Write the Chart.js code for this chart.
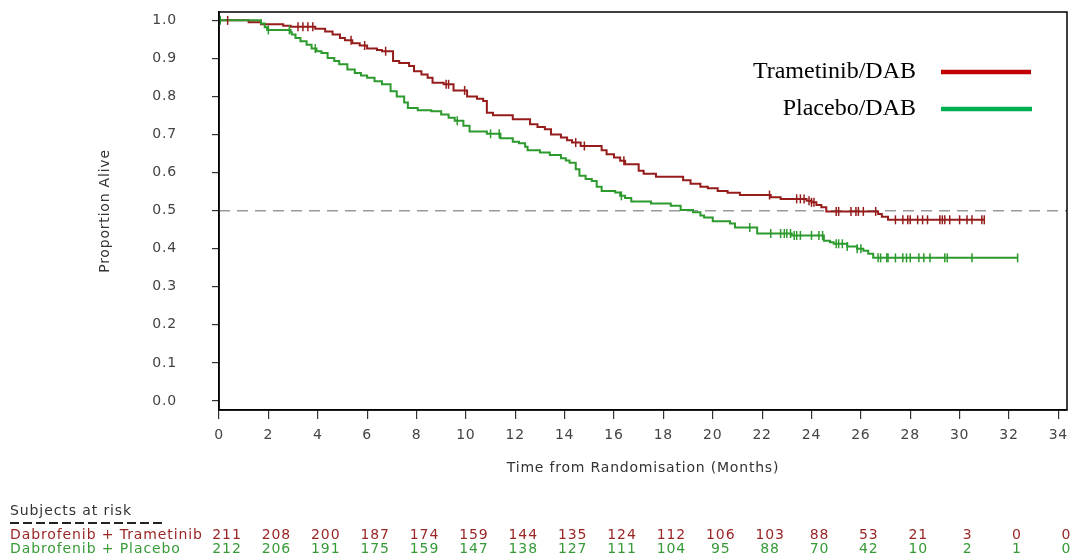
<!DOCTYPE html>
<html>
<head>
<meta charset="utf-8">
<script src="https://cdn.jsdelivr.net/npm/chart.js@4.4.0/dist/chart.umd.min.js"></script>
<style>
  html, body { margin: 0; padding: 0; background: #fff; }
</style>
</head>
<body>
<canvas id="myChart" width="1073" height="557"></canvas>
<script>
// -- axis ticks --
const xTicks = [0, 2, 4, 6, 8, 10, 12, 14, 16, 18, 20, 22, 24, 26, 28, 30, 32, 34];
const yTicks = [0, 0.1, 0.2, 0.3, 0.4, 0.5, 0.6, 0.7, 0.8, 0.9, 1.0];

// -- names --
const seriesNames = ['Trametinib/DAB', 'Placebo/DAB'];
const riskNames = ['Dabrofenib + Trametinib', 'Dabrofenib + Placebo'];

// -- Kaplan-Meier steps : Trametinib/DAB (time in months, proportion alive) --
const trametinibTimes = [0, 1.2, 1.7, 2.6, 2.9, 3.9, 4.3, 4.6, 4.9, 5.1, 5.4, 5.7, 6.0, 6.4, 6.6,
    7.05, 7.3, 7.7, 7.9, 8.2, 8.45, 8.65, 9.1, 9.5, 10.05, 10.45, 10.7, 10.85, 11.1,
    11.9, 12.6, 12.9, 13.2, 13.45, 13.85, 14.1, 14.3, 14.65, 15.5, 15.7, 16.0, 16.25, 16.45,
    17.0, 17.2, 17.7, 18.8, 19.1, 19.5, 19.8, 20.2, 20.6, 21.1, 22.35, 22.75,
    23.8, 24.0, 24.2, 24.4, 24.6, 26.7, 26.85, 27.1, 31.0];
const trametinibSurv = [1.0, 0.995, 0.99, 0.986, 0.983, 0.978, 0.971, 0.963, 0.954, 0.948, 0.94, 0.934, 0.926, 0.922, 0.919,
    0.893, 0.888, 0.88, 0.866, 0.858, 0.849, 0.836, 0.832, 0.816, 0.80, 0.794, 0.788, 0.757, 0.751,
    0.74, 0.727, 0.72, 0.714, 0.70, 0.692, 0.685, 0.679, 0.67, 0.659, 0.648, 0.64, 0.631, 0.622,
    0.605, 0.597, 0.589, 0.58, 0.571, 0.563, 0.559, 0.552, 0.547, 0.541, 0.535, 0.531,
    0.526, 0.522, 0.515, 0.509, 0.498, 0.491, 0.484, 0.476, 0.476];

// -- Kaplan-Meier steps : Placebo/DAB --
const placeboTimes = [0, 1.7, 1.85, 1.95, 2.9, 2.95, 3.1, 3.3, 3.55, 3.75, 3.95, 4.15, 4.4, 4.67, 4.87,
    5.2, 5.5, 5.75, 6.0, 6.3, 6.6, 6.95, 7.2, 7.5, 7.65, 8.05, 8.6, 9.0, 9.3, 9.55, 9.9,
    10.15, 10.85, 11.4, 11.9, 12.15, 12.4, 12.5, 13.0, 13.4, 13.85, 14.05, 14.2, 14.45, 14.6,
    14.85, 15.1, 15.3, 15.5, 16.05, 16.25, 16.45, 16.7, 17.5, 18.3, 18.7, 19.2, 19.5, 19.65,
    20.0, 20.7, 20.9, 21.8, 23.2, 24.5, 24.75, 24.9, 25.45, 25.85, 26.1, 26.3, 26.5, 32.35];
const placeboSurv = [1.0, 0.992, 0.982, 0.975, 0.969, 0.963, 0.954, 0.945, 0.936, 0.926, 0.919, 0.914, 0.901, 0.893, 0.885,
    0.871, 0.862, 0.855, 0.849, 0.84, 0.832, 0.814, 0.80, 0.784, 0.77, 0.764, 0.761, 0.753, 0.744, 0.736, 0.723,
    0.708, 0.702, 0.69, 0.681, 0.677, 0.668, 0.659, 0.653, 0.646, 0.638, 0.632, 0.626, 0.609, 0.592,
    0.583, 0.578, 0.563, 0.552, 0.548, 0.539, 0.533, 0.524, 0.519, 0.513, 0.502, 0.496, 0.487, 0.482,
    0.472, 0.466, 0.456, 0.44, 0.435, 0.421, 0.417, 0.413, 0.406, 0.40, 0.395, 0.387, 0.376, 0.376];

// -- censored subjects (months) --
const trametinibCensor = [0.35, 3.2, 3.4, 3.6, 3.8, 5.35, 5.9, 6.75, 9.2, 9.3, 9.95, 14.45, 14.8, 16.4,
    22.3, 23.4, 23.55, 23.7, 23.9, 24.0, 24.1, 25.0, 25.1, 25.6, 25.8, 25.9, 26.1, 26.6,
    27.4, 27.7, 27.9, 28.0, 28.3, 28.5, 28.7, 29.2, 29.3, 29.4, 29.6, 30.0, 30.3, 30.5, 30.9, 31.0];
const placeboCensor = [0.05, 2.0, 2.85, 3.9, 9.65, 11.0, 11.35, 16.3, 21.5, 22.35, 22.75, 22.9, 23.0,
    23.15, 23.3, 23.4, 23.55, 24.0, 24.3, 24.45, 25.0, 25.1, 25.25, 25.45, 25.85, 26.0,
    26.7, 26.8, 27.05, 27.1, 27.4, 27.7, 27.85, 28.0, 28.35, 28.55, 28.8, 29.4, 29.5, 30.5, 32.35];

// -- subjects at risk --
const riskTimes = [0, 2, 4, 6, 8, 10, 12, 14, 16, 18, 20, 22, 24, 26, 28, 30, 32, 34];
const riskTrametinib = [211, 208, 200, 187, 174, 159, 144, 135, 124, 112, 106, 103, 88, 53, 21, 3, 0, 0];
const riskPlacebo = [212, 206, 191, 175, 159, 147, 138, 127, 111, 104, 95, 88, 70, 42, 10, 2, 1, 0];

const medianLine = 0.5;

const redCurve = '#961c1c';
const greenCurve = '#2c9a2c';
const redLegend = '#c00000';
const greenLegend = '#00b050';
const sans = '"DejaVu Sans", sans-serif';

const X_MIN = 0, X_MAX = 34.35;

// --> points of a step curve <--
function toPoints(times, surv)
{
    return times.map((t, i) => ({ x: t, y: surv[i] }));
}

// --> value of the curve at time t <--
function survAt(times, surv, t)
{
    let s = surv[0];
    for (let i = 0; i < times.length; i++)
        if (times[i] <= t) s = surv[i];
    return s;
}

function censorPoints(cens, times, surv)
{
    return cens.map(t => ({ x: t, y: survAt(times, surv, t) }));
}

// -- the sas-like font is wide: spread all letters a little --
const spacing = {
    id: 'spacing',
    beforeDraw(chart) { chart.ctx.letterSpacing = '0.8px'; },
    afterDraw(chart) { chart.ctx.letterSpacing = '0px'; }
};

// -- box, legend and risk table --
const extras = {
    id: 'extras',
    afterDraw(chart) {
        const ctx = chart.ctx;
        const a = chart.chartArea;
        const xs = chart.scales.x;

        ctx.save();
        ctx.strokeStyle = '#000';
        ctx.lineWidth = 1.5;
        ctx.strokeRect(a.left, a.top, a.right - a.left, a.bottom - a.top);

        // subjects at risk
        ctx.letterSpacing = '0.9px';
        ctx.font = '14px ' + sans;
        ctx.textAlign = 'left';
        ctx.textBaseline = 'middle';
        ctx.fillStyle = '#333';
        ctx.fillText('Subjects at risk', 10, 511);
        ctx.strokeStyle = '#222';
        ctx.lineWidth = 2;
        ctx.setLineDash([9, 4]);
        ctx.beginPath(); ctx.moveTo(10, 523); ctx.lineTo(166, 523); ctx.stroke();
        ctx.setLineDash([]);

        ctx.fillStyle = '#9a2626';
        ctx.fillText(riskNames[0], 10, 535);
        ctx.fillStyle = '#379a37';
        ctx.fillText(riskNames[1], 10, 549);

        ctx.textAlign = 'center';
        riskTimes.forEach((t, i) => {
            const px = xs.getPixelForValue(t) + 8;
            ctx.fillStyle = '#9a2626';
            ctx.fillText(String(riskTrametinib[i]), px, 535);
            ctx.fillStyle = '#379a37';
            ctx.fillText(String(riskPlacebo[i]), px, 549);
        });

        // legend
        ctx.letterSpacing = '0px';
        ctx.font = '24px "Liberation Serif", serif';
        ctx.textAlign = 'right';
        ctx.fillStyle = '#000';
        ctx.fillText(seriesNames[0], 916, 72);
        ctx.fillText(seriesNames[1], 916, 109);
        ctx.lineWidth = 4.5;
        ctx.strokeStyle = redLegend;
        ctx.beginPath(); ctx.moveTo(941, 72); ctx.lineTo(1031, 72); ctx.stroke();
        ctx.strokeStyle = greenLegend;
        ctx.beginPath(); ctx.moveTo(941, 109); ctx.lineTo(1032, 109); ctx.stroke();
        ctx.restore();
    }
};

let chartObj = {
    type: 'line',
    data: {
        datasets: [{
            label: seriesNames[1] + ' censored',
            data: censorPoints(placeboCensor, placeboTimes, placeboSurv),
            showLine: false,
            pointStyle: 'line',
            rotation: 90,
            pointRadius: 4.5,
            borderWidth: 1.5,
            borderColor: greenCurve,
            order: 0
        },
        {
            label: seriesNames[0] + ' censored',
            data: censorPoints(trametinibCensor, trametinibTimes, trametinibSurv),
            showLine: false,
            pointStyle: 'line',
            rotation: 90,
            pointRadius: 4.5,
            borderWidth: 1.5,
            borderColor: redCurve,
            order: 1
        },
        {
            label: seriesNames[1],
            data: toPoints(placeboTimes, placeboSurv),
            stepped: true,
            pointRadius: 0,
            borderWidth: 2,
            borderColor: greenCurve,
            order: 2
        },
        {
            label: seriesNames[0],
            data: toPoints(trametinibTimes, trametinibSurv),
            stepped: true,
            pointRadius: 0,
            borderWidth: 2,
            borderColor: redCurve,
            order: 3
        },
        {
            label: 'median',
            data: [{ x: X_MIN, y: medianLine }, { x: X_MAX, y: medianLine }],
            pointRadius: 0,
            borderWidth: 1.5,
            borderDash: [11, 7],
            borderColor: '#9a9a9a',
            order: 4
        }]
    },
    options: {
        responsive: false,
        animation: false,
        events: [],
        layout: { padding: { left: 0, top: 12, right: 5, bottom: 0 } },
        plugins: {
            legend: { display: false },
            tooltip: { enabled: false }
        },
        scales: {
            x: {
                type: 'linear',
                min: X_MIN,
                max: X_MAX,
                afterBuildTicks: s => { s.ticks = xTicks.map(v => ({ value: v })); },
                afterFit: s => { s.height = 147; s.paddingLeft = 0; s.paddingRight = 0; },
                grid: { drawOnChartArea: false, drawTicks: true, tickLength: 9, color: '#333', lineWidth: 1.2 },
                border: { display: true, color: '#000', width: 1.5 },
                ticks: { color: '#444', font: { family: sans, size: 14 }, padding: 8, maxRotation: 0, autoSkip: false },
                title: {
                    display: true,
                    text: 'Time from Randomisation (Months)',
                    color: '#333',
                    font: { family: sans, size: 14 },
                    padding: { top: 0, bottom: 80 }
                }
            },
            y: {
                type: 'linear',
                min: -0.0237,
                max: 1.022,
                afterBuildTicks: s => { s.ticks = yTicks.map(v => ({ value: v })); },
                afterFit: s => { s.width = 219; s.paddingTop = 0; s.paddingBottom = 0; },
                grid: { drawOnChartArea: false, drawTicks: true, tickLength: 7, color: '#333', lineWidth: 1.2 },
                border: { display: true, color: '#000', width: 1.5 },
                ticks: { color: '#444', font: { family: sans, size: 14 }, padding: 35, callback: v => v.toFixed(1) },
                title: {
                    display: true,
                    text: 'Proportion Alive',
                    color: '#333',
                    font: { family: sans, size: 14 },
                    padding: { top: 97, bottom: 0 }
                }
            }
        }
    },
    plugins: [spacing, extras]
};

const ctx = document.getElementById('myChart').getContext('2d');
const myChart = new Chart(ctx, chartObj);
</script>
</body>
</html>
